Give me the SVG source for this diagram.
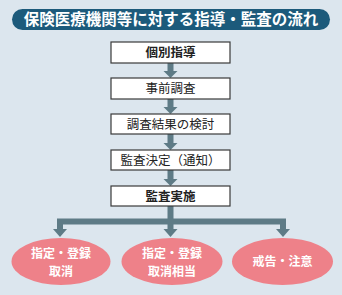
<svg xmlns="http://www.w3.org/2000/svg" width="342" height="295" viewBox="0 0 342 295">
<style>
.bg{fill:#dce6ee}
.title{fill:#1c5a7b}
.tt{font-family:"Noto Sans CJK JP","Noto Sans CJK SC",sans-serif;font-weight:bold;font-size:15.5px;fill:#ffffff;text-anchor:middle}
.box{fill:#ffffff;stroke:#3a3a3a;stroke-width:1.2}
.bt{font-family:"Noto Sans CJK JP","Noto Sans CJK SC",sans-serif;font-size:12.5px;fill:#222222;text-anchor:middle}
.b{font-weight:bold}
.stem{stroke:#5e7b86;stroke-width:6;fill:none}
.head{fill:#5e7b86}
.ell{fill:#ee8189}
.et{font-family:"Noto Sans CJK JP","Noto Sans CJK SC",sans-serif;font-weight:bold;font-size:12px;fill:#ffffff;text-anchor:middle}
</style>
<rect class="bg" x="0" y="0" width="342" height="295"/>
<g id="title">
<rect class="title" x="12" y="9" width="318" height="21" rx="10.5"/>
<text class="tt" x="171" y="25">保険医療機関等に対する指導・監査の流れ</text>
</g>
<g id="connectors">
<line class="stem" x1="170.5" y1="63" x2="170.5" y2="72"/>
<polygon class="head" points="163.5,71 177.5,71 170.5,78"/>
<line class="stem" x1="170.5" y1="99" x2="170.5" y2="108"/>
<polygon class="head" points="163.5,107 177.5,107 170.5,114"/>
<line class="stem" x1="170.5" y1="134" x2="170.5" y2="144"/>
<polygon class="head" points="163.5,143 177.5,143 170.5,150"/>
<line class="stem" x1="170.5" y1="170" x2="170.5" y2="180"/>
<polygon class="head" points="163.5,179 177.5,179 170.5,186"/>
<path class="stem" d="M170.5,206 V221.5 M60,230 V221.5 H283 V230 M170.5,221.5 V230"/>
<polygon class="head" points="53,229 67,229 60,237"/>
<polygon class="head" points="163.5,229 177.5,229 170.5,237"/>
<polygon class="head" points="276,229 290,229 283,237"/>
</g>
<g id="node1">
<rect class="box" x="111" y="42" width="119" height="21"/>
<text class="bt b" x="170.5" y="57">個別指導</text>
</g>
<g id="node2">
<rect class="box" x="111" y="78" width="119" height="21"/>
<text class="bt" x="170.5" y="93">事前調査</text>
</g>
<g id="node3">
<rect class="box" x="111" y="114" width="119" height="20"/>
<text class="bt" x="170.5" y="128.5">調査結果の検討</text>
</g>
<g id="node4">
<rect class="box" x="111" y="150" width="119" height="20"/>
<text class="bt" x="170.5" y="164.5">監査決定（通知）</text>
</g>
<g id="node5">
<rect class="box" x="111" y="186" width="119" height="20"/>
<text class="bt b" x="170.5" y="200.5">監査実施</text>
</g>
<g id="result1">
<ellipse class="ell" cx="61" cy="261.5" rx="49.5" ry="23.5"/>
<text class="et" x="61" y="258">指定・登録</text>
<text class="et" x="61" y="275.5">取消</text>
</g>
<g id="result2">
<ellipse class="ell" cx="172" cy="261.5" rx="50.5" ry="23.5"/>
<text class="et" x="172" y="258">指定・登録</text>
<text class="et" x="172" y="275.5">取消相当</text>
</g>
<g id="result3">
<ellipse class="ell" cx="282.5" cy="261.5" rx="50.5" ry="23.5"/>
<text class="et" x="282.5" y="266">戒告・注意</text>
</g>
</svg>
